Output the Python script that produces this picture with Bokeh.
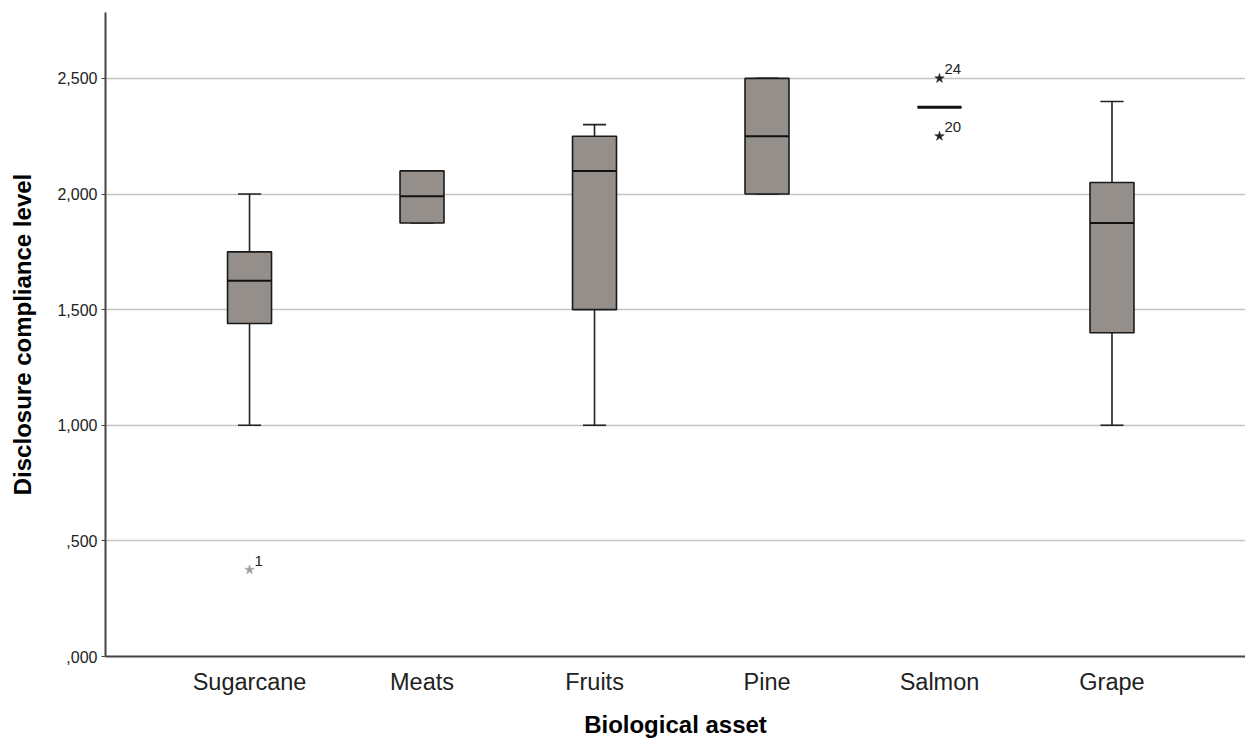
from bokeh.plotting import figure
from bokeh.models import Range1d, FixedTicker, ColumnDataSource
from bokeh.core.properties import value
from bokeh.embed import file_html
from bokeh.resources import INLINE

# ---- data ----
categories = ["Sugarcane", "Meats", "Fruits", "Pine", "Salmon", "Grape"]
q1 = [1.44, 1.875, 1.5, 2.0, 2.375, 1.40]
median = [1.625, 1.99, 2.1, 2.25, 2.375, 1.875]
q3 = [1.75, 2.1, 2.25, 2.5, 2.375, 2.05]
whisker_low = [1.0, 1.875, 1.0, 2.0, 2.375, 1.0]
whisker_high = [2.0, 2.1, 2.3, 2.5, 2.375, 2.4]

outlier_cat = ["Sugarcane", "Salmon", "Salmon"]
outlier_val = [0.375, 2.5, 2.25]
outlier_label = ["1", "24", "20"]

y_ticks = [0.0, 0.5, 1.0, 1.5, 2.0, 2.5]
y_tick_labels = [",000", ",500", "1,000", "1,500", "2,000", "2,500"]

x_title = "Biological asset"
y_title = "Disclosure compliance level"

# ---- styling ----
FONT = "Liberation Sans"
BOX_W = 0.255
CAP_W = 0.134
BOX_FILL = "#958f8c"

idx = list(range(len(categories)))

p = figure(width=1245, height=740, output_backend="svg", toolbar_location=None,
           x_range=Range1d(-0.835, 5.774), y_range=Range1d(0, 2.785),
           min_border_left=105, min_border_right=0, min_border_top=12,
           min_border_bottom=84)
p.outline_line_color = None
p.background_fill_color = "white"
p.border_fill_color = "white"

# grid
p.xgrid.grid_line_color = None
p.ygrid.grid_line_color = "#c4c4c4"
p.ygrid.grid_line_width = 1.5
p.yaxis.ticker = FixedTicker(ticks=y_ticks)
p.ygrid.ticker = FixedTicker(ticks=y_ticks)

# axes
p.xaxis.ticker = FixedTicker(ticks=idx)
p.xaxis.major_label_overrides = {i: c for i, c in zip(idx, categories)}
p.yaxis.major_label_overrides = {t: l for t, l in zip(y_ticks, y_tick_labels)}

for ax in (p.xaxis[0], p.yaxis[0]):
    ax.axis_line_color = "#444444"
    ax.axis_line_width = 2
    ax.minor_tick_line_color = None
    ax.major_label_text_font = FONT
    ax.major_label_text_color = "#222222"
    ax.axis_label_text_font = FONT
    ax.axis_label_text_font_style = "bold"
    ax.axis_label_text_color = "#000000"
    ax.axis_label_text_font_size = "24px"

p.xaxis.major_tick_line_color = None
p.xaxis.major_tick_out = 0
p.xaxis.major_tick_in = 0
p.xaxis.major_label_text_font_size = "23.5px"
p.xaxis.major_label_standoff = 12
p.xaxis.axis_label = x_title
p.xaxis.axis_label_standoff = 13

p.yaxis.major_tick_line_color = "#444444"
p.yaxis.major_tick_out = 4
p.yaxis.major_tick_in = 0
p.yaxis.major_label_text_font_size = "16px"
p.yaxis.major_label_standoff = 4
p.yaxis.axis_label = y_title
p.yaxis.axis_label_standoff = 18

# whiskers
src = ColumnDataSource(dict(
    x=idx, q1=q1, q3=q3, med=median, lo=whisker_low, hi=whisker_high,
    bx0=[i - BOX_W / 2 for i in idx], bx1=[i + BOX_W / 2 for i in idx],
    cx0=[i - CAP_W / 2 for i in idx], cx1=[i + CAP_W / 2 for i in idx],
    mw=[3.0 if a == b else 2.0 for a, b in zip(q1, q3)],
))
p.segment(x0="x", y0="q3", x1="x", y1="hi", source=src, line_color="#222222", line_width=1.6)
p.segment(x0="x", y0="q1", x1="x", y1="lo", source=src, line_color="#222222", line_width=1.6)
p.segment(x0="cx0", y0="hi", x1="cx1", y1="hi", source=src, line_color="#222222", line_width=1.6)
p.segment(x0="cx0", y0="lo", x1="cx1", y1="lo", source=src, line_color="#222222", line_width=1.6)

# boxes
p.vbar(x="x", width=BOX_W, bottom="q1", top="q3", source=src,
       fill_color=BOX_FILL, line_color="#1a1a1a", line_width=1.6)
# medians
p.segment(x0="bx0", y0="med", x1="bx1", y1="med", source=src,
          line_color="#111111", line_width="mw")

# outliers
out_x = [categories.index(c) for c in outlier_cat]
out_col = ["#a0a0a0" if v < 1 else "#222222" for v in outlier_val]
osrc = ColumnDataSource(dict(x=out_x, y=outlier_val, lab=outlier_label, col=out_col))
p.scatter(x="x", y="y", source=osrc, marker="star", size=10,
          fill_color="col", line_color="col", line_width=0.5)
p.text(x="x", y="y", text="lab", source=osrc, x_offset=5, y_offset=-4,
       text_baseline="bottom", text_align="left", text_font=value(FONT),
       text_font_size="15px", text_color="#222222")

open("out.html", "w").write(file_html(p, INLINE))
